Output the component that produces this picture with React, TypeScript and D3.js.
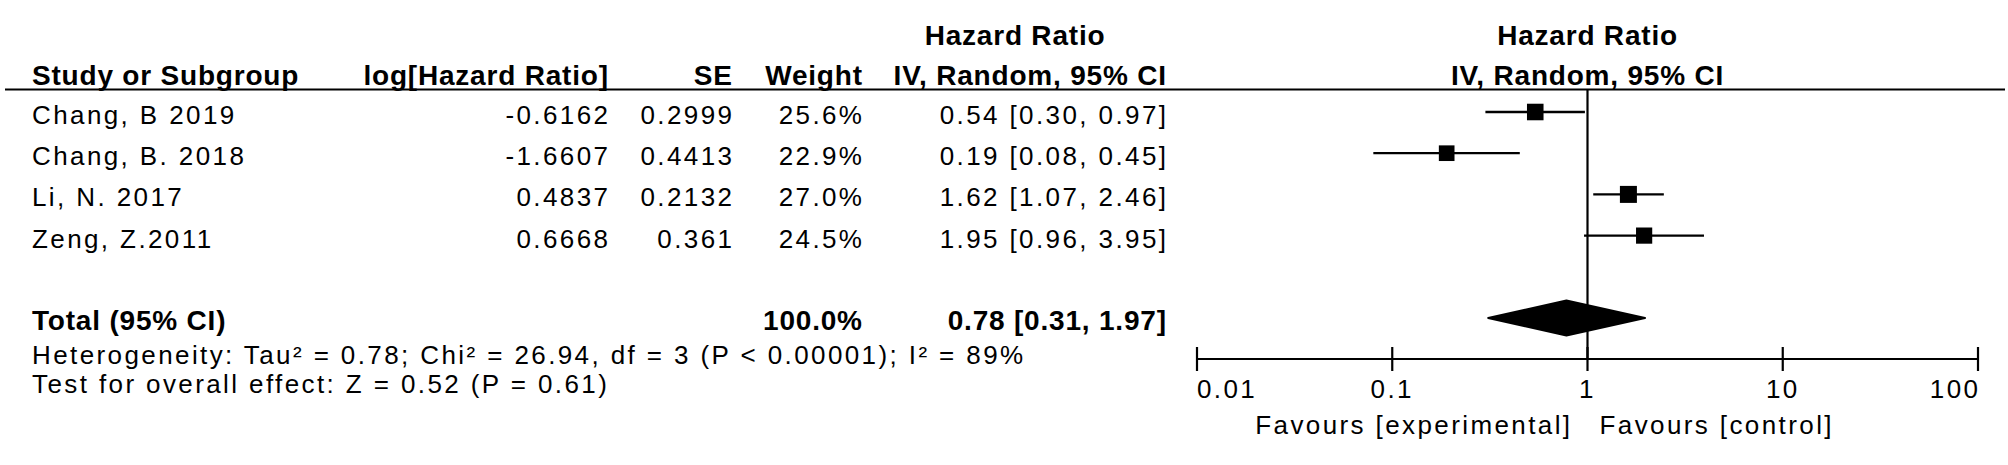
import React from "react";
import * as d3 from "d3";

const studies = ["Chang, B 2019", "Chang, B. 2018", "Li, N. 2017", "Zeng, Z.2011"];
const logHR = [-0.6162, -1.6607, 0.4837, 0.6668];
const seValues = [0.2999, 0.4413, 0.2132, 0.361];
const weights = [25.6, 22.9, 27.0, 24.5];
const hr = [0.54, 0.19, 1.62, 1.95];
const ciLow = [0.3, 0.08, 1.07, 0.96];
const ciHigh = [0.97, 0.45, 2.46, 3.95];

const totalLabel = "Total (95% CI)";
const totalWeight = 100.0;
const totalHR = 0.78;
const totalLow = 0.31;
const totalHigh = 1.97;

const heterogeneityText = "Heterogeneity: Tau\u00b2 = 0.78; Chi\u00b2 = 26.94, df = 3 (P < 0.00001); I\u00b2 = 89%";
const overallText = "Test for overall effect: Z = 0.52 (P = 0.61)";

const tickValues = [0.01, 0.1, 1, 10, 100];
const tickLabels = ["0.01", "0.1", "1", "10", "100"];
const favoursLeft = "Favours [experimental]";
const favoursRight = "Favours [control]";

const W = 2008;
const H = 465;
const FONT = "'Liberation Sans', Arial, sans-serif";
const REG = 26;
const REG_LS = 2.4;
const BOLD = 28;
const BOLD_LS = 0.8;

export default function App() {
  const x = d3.scaleLog().domain([0.01, 100]).range([1197, 1978]);
  const rowY = d3.scaleLinear().domain([0, 5]).range([112, 318]);
  const size = d3.scaleSqrt().domain([0, 27]).range([0, 17]);
  const fmt2 = (v: number) => v.toFixed(2);
  const ciText = (a: number, l: number, h: number) => `${fmt2(a)} [${fmt2(l)}, ${fmt2(h)}]`;

  const reg = { fontFamily: FONT, fontSize: REG, letterSpacing: REG_LS, fill: "#000" } as const;
  const bold = { fontFamily: FONT, fontSize: BOLD, fontWeight: 700, letterSpacing: BOLD_LS, fill: "#000" } as const;

  const colLog = 608 + REG_LS;
  const colSE = 732 + REG_LS;
  const colW = 862 + REG_LS;
  const colCI = 1166 + REG_LS;
  const x1 = x(1);
  const axisY = 359;
  const headerLineY = 89.5;
  const tY = rowY(5);

  const diamond = d3.line()([
    [x(totalLow), tY],
    [x(totalHR), tY - 17.5],
    [x(totalHigh), tY],
    [x(totalHR), tY + 17.5],
  ]) + "Z";

  return (
    <svg width={W} height={H} style={{ position: "absolute", left: 0, top: 0, background: "#fff" }}>
      <rect x={0} y={0} width={W} height={H} fill="#fff" />
      {/* header line 1 */}
      <text x={1015} y={45} textAnchor="middle" {...bold}>Hazard Ratio</text>
      <text x={x1} y={45} textAnchor="middle" {...bold}>Hazard Ratio</text>
      {/* header line 2 */}
      <text x={32} y={85} {...bold}>Study or Subgroup</text>
      <text x={608 + BOLD_LS} y={85} textAnchor="end" {...bold}>log[Hazard Ratio]</text>
      <text x={732 + BOLD_LS} y={85} textAnchor="end" {...bold}>SE</text>
      <text x={862 + BOLD_LS} y={85} textAnchor="end" {...bold}>Weight</text>
      <text x={1166 + BOLD_LS} y={85} textAnchor="end" {...bold}>IV, Random, 95% CI</text>
      <text x={x1} y={85} textAnchor="middle" {...bold}>IV, Random, 95% CI</text>
      <line x1={5} x2={2005} y1={headerLineY} y2={headerLineY} stroke="#000" strokeWidth={2.2} />

      {/* study rows */}
      {studies.map((s, i) => {
        const y = rowY(i);
        const side = size(weights[i]);
        return (
          <g key={s}>
            <text x={32} y={y + 12} {...reg}>{s}</text>
            <text x={colLog} y={y + 12} textAnchor="end" {...reg}>{String(logHR[i])}</text>
            <text x={colSE} y={y + 12} textAnchor="end" {...reg}>{String(seValues[i])}</text>
            <text x={colW} y={y + 12} textAnchor="end" {...reg}>{weights[i].toFixed(1) + "%"}</text>
            <text x={colCI} y={y + 12} textAnchor="end" {...reg}>{ciText(hr[i], ciLow[i], ciHigh[i])}</text>
            <line x1={x(ciLow[i])} x2={x(ciHigh[i])} y1={y} y2={y} stroke="#000" strokeWidth={2.3} />
            <rect x={x(hr[i]) - side / 2} y={y - side / 2} width={side} height={side} fill="#000" />
          </g>
        );
      })}

      {/* total row */}
      <text x={32} y={tY + 12} {...bold}>{totalLabel}</text>
      <text x={862 + BOLD_LS} y={tY + 12} textAnchor="end" {...bold}>{totalWeight.toFixed(1) + "%"}</text>
      <text x={1166 + BOLD_LS} y={tY + 12} textAnchor="end" {...bold}>{ciText(totalHR, totalLow, totalHigh)}</text>
      <path d={diamond} fill="#000" stroke="#000" strokeWidth={2} strokeLinejoin="round" />

      {/* footer */}
      <text x={32} y={364} {...reg}>{heterogeneityText}</text>
      <text x={32} y={393} {...reg}>{overallText}</text>

      {/* null line */}
      <line x1={x1} x2={x1} y1={headerLineY} y2={axisY} stroke="#000" strokeWidth={2.2} />

      {/* axis */}
      <line x1={x(0.01)} x2={x(100)} y1={axisY} y2={axisY} stroke="#000" strokeWidth={2.2} />
      {tickValues.map((t, i) => (
        <g key={t}>
          <line x1={x(t)} x2={x(t)} y1={axisY - 12} y2={axisY + 12} stroke="#000" strokeWidth={2.2} />
          <text
            x={i === tickValues.length - 1 ? x(t) + REG_LS : x(t)}
            y={398}
            textAnchor={i === 0 ? "start" : i === tickValues.length - 1 ? "end" : "middle"}
            {...reg}
          >
            {tickLabels[i]}
          </text>
        </g>
      ))}
      <text x={x1 - 15} y={434} textAnchor="end" {...reg}>{favoursLeft}</text>
      <text x={x1 + 12} y={434} {...reg}>{favoursRight}</text>
    </svg>
  );
}
